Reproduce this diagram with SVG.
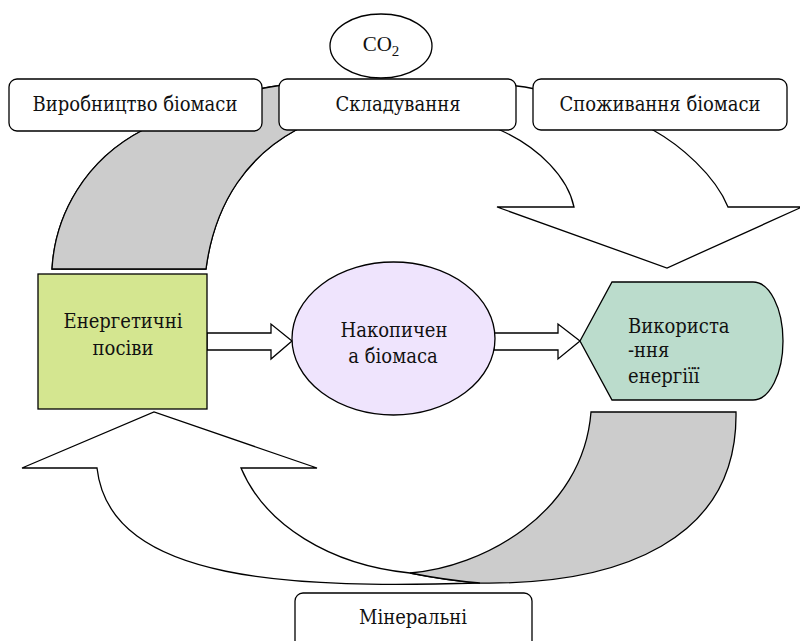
<svg xmlns="http://www.w3.org/2000/svg" width="800" height="641" viewBox="0 0 800 641">
  <style>
    .ln { stroke: #000; stroke-width: 1.3; stroke-linejoin: miter; }
    .band { fill: #cccccc; }
    .wht { fill: #ffffff; }
    .box { fill: #ffffff; stroke: #000; stroke-width: 1.3; }
    .t { font-family: "DejaVu Serif Condensed", "DejaVu Serif", serif; font-stretch: condensed; font-size: 20px; fill: #111; }
    .co { font-family: "Liberation Serif", serif; font-size: 21px; fill: #111; }
    .mid { text-anchor: middle; }
  </style>
  <rect width="800" height="641" fill="#ffffff"/>

  <g id="connectors">
    <!-- upper circular arrow: from crops towards consumption -->
    <path class="ln wht" d="M52,269 C55,215 85,160 143,130 C190,106 230,94 270,87 C320,79 470,79 525,87 C570,95 620,112 653,130 C680,145 715,175 728,207 L802,207 L667,268 L497,207 L574,207 C568,178 540,148 500,130 C470,114 430,108 398,108 C366,108 326,114 296,130 C250,155 215,200 206,269 Z"/>
    <path class="ln band" d="M52,269 C55,215 85,160 143,130 C190,106 230,94 270,87 C300,82 330,80 345,80 L345,118 C330,120 310,124 296,130 C250,155 215,200 206,269 Z"/>

    <!-- lower circular arrow: back to the crops -->
    <path class="ln wht" d="M97,468 L22,468 L154,412 L317,468 L241,468 C265,525 330,565 410,573 C430,577 455,581 480,583 C300,588 110,585 97,468 Z"/>
    <path class="ln band" d="M591,412 L736,412 C738,540 620,585 480,583 C455,581 430,577 410,573 C480,568 583,515 591,412 Z"/>

    <!-- outlined block arrows between the central nodes -->
    <path class="ln wht" d="M207,333 L271,333 L271,324 L292,341 L271,359 L271,350 L207,350 Z"/>
    <path class="ln wht" d="M494,333 L558,333 L558,324 L580,341 L558,359 L558,350 L494,350 Z"/>
  </g>

  <g id="node-production">
    <rect class="box" x="9" y="79" width="253" height="52" rx="8"/>
    <text class="t mid" x="135" y="111">Виробництво біомаси</text>
  </g>

  <g id="node-storage">
    <rect class="box" x="279" y="79" width="237" height="51" rx="8"/>
    <text class="t mid" x="398" y="111">Складування</text>
  </g>

  <g id="node-consumption">
    <rect class="box" x="533" y="79" width="254" height="51" rx="8"/>
    <text class="t mid" x="660" y="111">Споживання біомаси</text>
  </g>

  <g id="node-co2">
    <ellipse class="box" cx="381" cy="46" rx="51" ry="32"/>
    <text class="co mid" x="381" y="51">CO<tspan font-size="15" dy="5">2</tspan></text>
  </g>

  <g id="node-crops">
    <rect x="38" y="274" width="169" height="135" fill="#d4e690" stroke="#000" stroke-width="1.3"/>
    <text class="t mid" x="123" y="328">Енергетичні</text>
    <text class="t mid" x="123" y="355">посіви</text>
  </g>

  <g id="node-biomass">
    <ellipse cx="393.5" cy="338.5" rx="101.5" ry="76.5" fill="#efe4fd" stroke="#000" stroke-width="1.3"/>
    <text class="t mid" x="394" y="337">Накопичен</text>
    <text class="t mid" x="393" y="363">а біомаса</text>
  </g>

  <g id="node-energy">
    <path d="M580,341 L612,282 L753,282 A30,59 0 0 1 753,400 L612,400 Z" fill="#bbdccc" stroke="#000" stroke-width="1.3"/>
    <text class="t" x="628" y="333">Використа</text>
    <text class="t" x="628" y="357">-ння</text>
    <text class="t" x="628" y="383">енергіїї</text>
  </g>

  <g id="node-minerals">
    <rect class="box" x="295" y="593" width="237" height="60" rx="8"/>
    <text class="t mid" x="413" y="624">Мінеральні</text>
  </g>
</svg>
